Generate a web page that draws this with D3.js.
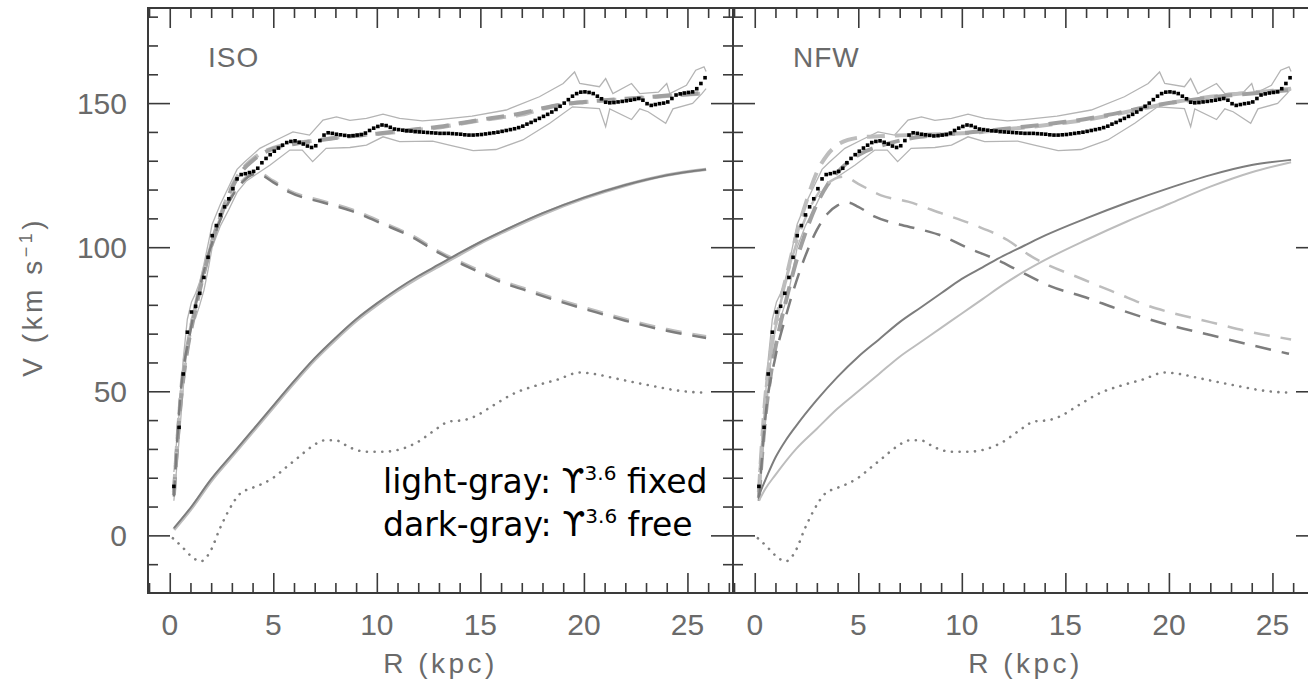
<!DOCTYPE html>
<html>
<head>
<meta charset="utf-8">
<script src="https://cdn.jsdelivr.net/npm/d3@7"></script>
<style>
  body { margin: 0; background: #fff; }
  svg { display: block; }
</style>
</head>
<body>
<svg id="chart" width="1308" height="689"></svg>
<script>
// observed rotation curve [R kpc, V km/s], same in both panels
const observed = [
  [0.2,17],[0.45,37.5],[0.65,56],[0.85,70.5],[1.05,77.5],[1.25,79.5],[1.45,84],[1.65,89.5],[1.85,96.5],[2.05,104],
  [2.25,107.5],[2.45,111.2],[2.65,114],[2.85,116.8],[3.05,120.3],[3.25,123.7],[3.45,125.2],[3.65,125.5],[3.85,125.9],[4.05,126.3],
  [4.25,127.4],[4.45,129.3],[4.65,130.8],[4.85,132.1],[5.05,133.3],[5.25,134.4],[5.45,135.4],[5.65,136.3],[5.85,136.7],[6.05,136.9],
  [6.25,136.4],[6.45,135.8],[6.65,135.1],[6.85,134.6],[7.05,135.2],[7.25,137],[7.45,138.9],[7.65,139.7],[7.85,139.5],[8.05,139.2],
  [8.25,139],[8.45,138.8],[8.65,138.6],[8.85,138.7],[9.05,138.9],[9.25,139.1],[9.45,139.6],[9.65,140.5],[9.85,141.3],[10.05,141.9],
  [10.25,142.4],[10.45,142.2],[10.65,141.6],[10.85,141],[11.05,140.8],[11.25,140.6],[11.45,140.4],[11.65,140.3],[11.85,140.1],[12.05,140],
  [12.25,139.9],[12.45,139.8],[12.65,139.7],[12.85,139.6],[13.05,139.5],[13.25,139.5],[13.45,139.5],[13.65,139.4],[13.85,139.3],[14.05,139.2],
  [14.25,139],[14.45,138.9],[14.65,138.9],[14.85,139],[15.05,139.1],[15.25,139.3],[15.45,139.5],[15.65,139.7],[15.85,139.9],[16.05,140.2],
  [16.25,140.5],[16.45,140.8],[16.65,141.1],[16.85,141.5],[17.05,142],[17.25,142.7],[17.45,143.3],[17.65,144],[17.85,144.7],[18.05,145.4],
  [18.25,146.1],[18.45,146.9],[18.65,147.8],[18.85,148.9],[19.05,150],[19.25,151.2],[19.45,152.4],[19.65,153.3],[19.85,153.8],[20.05,153.9],
  [20.25,153.7],[20.45,153.3],[20.65,152.4],[20.85,151.5],[21.05,150.3],[21.25,150.1],[21.45,150.2],[21.65,150.4],[21.85,150.6],[22.05,150.8],
  [22.25,151],[22.45,151.3],[22.65,151.6],[22.85,151],[23.05,149.8],[23.25,149.2],[23.45,149.5],[23.65,149.8],[23.85,150],[24.05,150.4],
  [24.25,151.6],[24.45,152.8],[24.65,153.2],[24.85,153.5],[25.05,153.7],[25.25,153.9],[25.45,155],[25.65,156.8],[25.85,158.8]
];

// error envelope of the observed curve
const errHi = [
  [0.2,22],[0.45,42],[0.65,61],[0.85,75],[1.05,81],[1.25,84],[1.45,88],[1.65,94],[1.85,101],[2.05,108],[2.45,115],
  [2.85,121],[3.25,127],[3.6,129.5],[4.35,134.3],[5.15,137.2],[5.95,140],[6.75,138.9],[7.4,144.1],[8.05,145.2],
  [8.7,144],[9.5,144.7],[10.3,146.2],[11.1,144.7],[12.2,143.8],[13,144.3],[14.6,145.5],[16.25,147.6],[17.85,152.2],
  [19,156.8],[19.55,160.8],[19.8,156.8],[20.75,155.7],[21.05,158.5],[21.4,153.3],[22.3,156.8],[22.7,153.3],
  [23.6,153.8],[24,156.8],[24.15,153.3],[24.95,156.2],[25.4,161.4],[25.8,162.6],[25.9,161]
];
const errLo = [
  [0.2,12],[0.45,33],[0.65,51],[0.85,66],[1.05,74],[1.25,75.5],[1.45,80],[1.65,85],[1.85,92],[2.05,100],[2.45,107.5],
  [2.85,113],[3.25,119],[3.7,123],[4.85,128.5],[5.8,133.7],[6.4,133.7],[6.9,129.7],[7.55,134.3],[8.7,134.6],
  [9.5,135.4],[10.3,138.3],[11.1,136.6],[12.7,136.8],[13.5,135.4],[14.65,133.5],[15.75,133.9],[17.05,137.2],
  [18.35,143],[19.45,148.7],[20.75,148.1],[21.05,141.8],[21.25,148],[22.3,144.3],[22.7,148],[23.1,147],
  [23.95,143],[24.3,148],[25.25,149.9],[25.7,153.3],[25.9,155]
];

// gas contribution (dotted), same in both panels
const gas = [
  [0.15,-1],[0.6,-4],[1,-7],[1.5,-9],[2,-5],[2.4,2],[2.8,8],[3.4,14.5],[4,16.5],[4.5,18],[5,20],[5.6,23.5],
  [6.2,27],[6.8,30.5],[7.5,33],[8,33],[8.7,30.5],[9.5,29],[10.3,29],[11.2,30],[12,32.5],[12.7,36],[13.5,39.5],
  [14.2,40],[14.8,41.5],[15.6,45],[16.7,49.5],[17.7,52],[18.7,54],[19.8,56.5],[20.5,56],[21.5,54.5],[22.5,53],
  [23.2,52],[24.8,50],[26,49.5]
];

// ISO fits
const isoTotalLight = [
  [0.2,15],[0.5,45],[0.8,63],[1.2,78],[1.6,90],[2,101],[2.5,112],[3,121],[3.5,127],[4,130.5],[4.5,133],[5,134.5],
  [6,136],[7,137],[8,138],[9,138.7],[10,139.3],[11,140],[12,140.8],[13,141.5],[14,142.8],[15,144],[16,145],[17,146],
  [18,148],[19,149.5],[20,150.3],[21,150.9],[22,151.4],[23,151.9],[24,152.5],[25,153],[25.9,153.4]
];
const isoTotalDark = [
  [0.2,14],[0.5,44],[0.8,62],[1.2,77],[1.6,89.5],[2,100.5],[2.5,111.5],[3,120.5],[3.5,126.5],[4,130],[4.5,132.6],
  [5,134.2],[6,135.8],[7,136.9],[8,137.9],[9,138.7],[10,139.4],[11,140.2],[12,141],[13,141.8],[14,143],[15,144.2],
  [16,145.3],[17,146.5],[18,148.2],[19,149.6],[20,150.4],[21,151],[22,151.5],[23,152],[24,152.6],[25,153.1],[25.9,153.6]
];
const isoDiskLight = [
  [0.2,14],[0.5,48],[1,72],[1.5,88],[2,101],[2.5,111],[3,118],[3.5,123],[4.2,126],[5,123],[5.8,119.5],[7.4,116],
  [8.8,113],[10.3,108.5],[11.7,104],[13,98.5],[14.6,93],[15.8,89],[17.4,85],[18.8,81.7],[20.3,78.5],[22,75],
  [24,71.5],[25.9,69]
];
const isoDiskDark = [
  [0.2,13.5],[0.5,47],[1,71],[1.5,87.5],[2,100.5],[2.5,110.5],[3,117.5],[3.5,122.5],[4.2,125.5],[5,122.5],[5.8,119],
  [7.4,115.5],[8.8,112.5],[10.3,108],[11.7,103.5],[13,98],[14.6,92.5],[15.8,88.5],[17.4,84.5],[18.8,81.2],[20.3,78],
  [22,74.5],[24,71],[25.9,68.5]
];
const isoHaloLight = [
  [0.2,2],[1,9],[2,19],[3,27.5],[4,36],[5,44.5],[6,53],[7,61],[8,68],[9,74.5],[10,80],[11,85],[12,89.5],[13,93.5],
  [14,97.5],[15,101.5],[16,105],[18,111.5],[20,117],[22,121.5],[24,125],[25.9,127]
];
const isoHaloDark = [
  [0.2,2.5],[1,9.5],[2,19.5],[3,28],[4,36.5],[5,45],[6,53.5],[7,61.5],[8,68.5],[9,75],[10,80.5],[11,85.5],[12,90],
  [13,94],[14,98],[15,101.8],[16,105.3],[18,111.8],[20,117.2],[22,121.6],[24,125],[25.9,127]
];

// NFW fits
const nfwTotalLight = [
  [0.2,15],[0.5,47],[0.8,65],[1.2,80],[1.6,92],[2,104],[2.5,116],[3,126],[3.5,132],[4,135.5],[4.5,137.2],[5,138],
  [6,138.5],[7,138.8],[8,139],[9,139.2],[10,139.5],[11,140],[12,140.8],[13,141.5],[14,142.3],[15,143.2],[16,144.2],
  [17,145.5],[18,147],[19,148.5],[20,150],[21,151.2],[22,152.2],[23,153],[24,153.7],[25,154.3],[25.9,155]
];
const nfwTotalDark = [
  [0.2,13],[0.5,40],[0.8,57],[1.2,72],[1.6,84],[2,95],[2.5,106],[3,115],[3.5,121.5],[4,126],[4.5,129.5],[5,132],
  [6,135],[7,137],[8,138.3],[9,139],[10,139.6],[11,140.2],[12,141],[13,141.8],[14,142.6],[15,143.5],[16,144.5],
  [17,145.8],[18,147.3],[19,148.8],[20,150],[21,151],[22,151.9],[23,152.7],[24,153.3],[25,154],[25.9,154.5]
];
const nfwDiskLight = [
  [0.2,14],[0.5,48],[1,72],[1.5,88],[2,101],[2.5,111],[3,118],[3.5,122],[4.3,124.5],[5,122],[6.1,118],[7.4,115.8],
  [9,111.8],[10.6,107.7],[12.2,102.5],[13.2,97.5],[15.9,88.7],[17.5,84],[19.1,79.4],[20,77.5],[22,74],[24,70.5],
  [25.9,68]
];
const nfwDiskDark = [
  [0.2,12],[0.5,40],[1,62],[1.5,76],[2,88],[2.5,98],[3,106],[3.5,111.5],[4,114.5],[4.5,115.5],[5,114],[5.8,110.6],
  [7.1,107.7],[8.4,105.4],[8.9,104.3],[10.3,99.7],[11.7,95.6],[12.7,92],[14.3,86.4],[16.1,82.3],[17.4,78.9],[20,73],
  [22,69.5],[24,66],[25.8,63]
];
const nfwHaloLight = [
  [0.2,12],[0.5,16],[1,21],[2,30],[3,37],[4,44],[5,50],[6,56],[7,62],[8,67],[9,72],[10,77],[11,82],[12,87],
  [13,91.5],[14,95.5],[16,102.5],[18,109],[20,115],[22,121],[24,126],[25.9,129.5]
];
const nfwHaloDark = [
  [0.2,14],[0.5,19],[1,27],[1.5,33],[2,38],[3,47],[4,55],[5,62],[6,68],[7,74],[8,79],[9,84],[10,89],[11,93],
  [12,97],[13,100.5],[14,104],[16,110],[18,115.5],[20,120.5],[22,125],[24,128.5],[25.9,130.3]
];

const xMajor = [0, 5, 10, 15, 20, 25];
const yMajor = [0, 50, 100, 150];

const light = '#bdbdbd';
const dark = '#7d7d7d';
const frameColor = '#3a3a3a';
const labelColor = '#6a6a6a';

const svg = d3.select('#chart');
const yTop = 8, yBottom = 593;
const y = d3.scaleLinear().domain([-20, 183]).range([yBottom, yTop]);

const panels = [
  {
    name: 'ISO', left: 148, right: 733,
    curves: [
      {data: isoTotalLight, color: light, width: 4, dash: '18,10'},
      {data: isoTotalDark, color: '#a0a0a0', width: 4, dash: '18,10'},
      {data: isoDiskLight, color: light, width: 3, dash: '16,11'},
      {data: isoDiskDark, color: dark, width: 2.5, dash: '16,11'},
      {data: isoHaloLight, color: light, width: 3.5},
      {data: isoHaloDark, color: dark, width: 2}
    ]
  },
  {
    name: 'NFW', left: 733, right: 1318,
    curves: [
      {data: nfwTotalLight, color: light, width: 4, dash: '18,10'},
      {data: nfwTotalDark, color: '#a0a0a0', width: 4, dash: '18,10'},
      {data: nfwDiskLight, color: light, width: 2.5, dash: '16,11'},
      {data: nfwDiskDark, color: dark, width: 2.5, dash: '16,11'},
      {data: nfwHaloLight, color: light, width: 2},
      {data: nfwHaloDark, color: dark, width: 2}
    ]
  }
];

const drawTicks = (g, axis, transform) => {
  g.append('g')
    .attr('transform', transform)
    .call(axis.tickFormat(''))
    .call(s => s.select('.domain').remove())
    .selectAll('line')
    .attr('stroke', frameColor)
    .attr('stroke-width', 1.6);
};

panels.forEach((p) => {
  const x = d3.scaleLinear().domain([-1.05, 27.2]).range([p.left, p.right]);
  const g = svg.append('g');

  const xMinor = d3.range(-1, 28).filter(v => v % 5 !== 0);
  const yMinor = d3.range(-10, 181, 10).filter(v => v % 50 !== 0);

  // ticks on all four sides, pointing inward
  drawTicks(g, d3.axisBottom(x).tickValues(xMajor).tickSize(-20), `translate(0,${yBottom})`);
  drawTicks(g, d3.axisBottom(x).tickValues(xMinor).tickSize(-10), `translate(0,${yBottom})`);
  drawTicks(g, d3.axisTop(x).tickValues(xMajor).tickSize(-20), `translate(0,${yTop})`);
  drawTicks(g, d3.axisTop(x).tickValues(xMinor).tickSize(-10), `translate(0,${yTop})`);
  drawTicks(g, d3.axisLeft(y).tickValues(yMajor).tickSize(-22), `translate(${p.left},0)`);
  drawTicks(g, d3.axisLeft(y).tickValues(yMinor).tickSize(-10), `translate(${p.left},0)`);
  drawTicks(g, d3.axisRight(y).tickValues(yMajor).tickSize(-22), `translate(${p.right},0)`);
  drawTicks(g, d3.axisRight(y).tickValues(yMinor).tickSize(-10), `translate(${p.right},0)`);

  g.append('rect')
    .attr('x', p.left).attr('y', yTop)
    .attr('width', p.right - p.left).attr('height', yBottom - yTop)
    .attr('fill', 'none')
    .attr('stroke', frameColor)
    .attr('stroke-width', 2);

  // x tick labels
  g.selectAll('.xl').data(xMajor).enter().append('text')
    .attr('x', d => x(d)).attr('y', 635)
    .attr('text-anchor', 'middle')
    .attr('font-family', 'Liberation Sans, Arial, sans-serif')
    .attr('font-size', 30).attr('fill', labelColor)
    .text(d => d);

  g.append('text')
    .attr('x', (p.left + p.right) / 2).attr('y', 673)
    .attr('text-anchor', 'middle')
    .attr('font-family', 'Liberation Sans, Arial, sans-serif')
    .attr('font-size', 28).attr('letter-spacing', 3.5).attr('fill', labelColor)
    .text('R (kpc)');

  g.append('text')
    .attr('x', p.left + 60).attr('y', 67)
    .attr('font-family', 'Liberation Sans, Arial, sans-serif')
    .attr('font-size', 28).attr('letter-spacing', 1).attr('fill', labelColor)
    .text(p.name);

  const line = d3.line().x(d => x(d[0])).y(d => y(d[1])).curve(d3.curveMonotoneX);
  const rough = d3.line().x(d => x(d[0])).y(d => y(d[1]));

  // error envelope
  [errHi, errLo].forEach(e => {
    g.append('path').datum(e)
      .attr('d', rough)
      .attr('fill', 'none').attr('stroke', '#b4b4b4').attr('stroke-width', 1.3);
  });

  p.curves.forEach(c => {
    g.append('path').datum(c.data)
      .attr('d', line)
      .attr('fill', 'none')
      .attr('stroke', c.color)
      .attr('stroke-width', c.width)
      .attr('stroke-dasharray', c.dash || null);
  });

  // gas (dotted)
  g.append('path').datum(gas)
    .attr('d', line)
    .attr('fill', 'none')
    .attr('stroke', '#808080')
    .attr('stroke-width', 2.6)
    .attr('stroke-linecap', 'round')
    .attr('stroke-dasharray', '0.1,7.6');

  // observed points
  g.selectAll('.obs').data(observed).enter().append('rect')
    .attr('x', d => x(d[0]) - 1.8).attr('y', d => y(d[1]) - 1.8)
    .attr('width', 3.6).attr('height', 3.6)
    .attr('fill', '#000');
});

// y tick labels (left panel only)
svg.selectAll('.yl').data(yMajor).enter().append('text')
  .attr('x', 127).attr('y', d => y(d) + 11)
  .attr('text-anchor', 'end')
  .attr('font-family', 'Liberation Sans, Arial, sans-serif')
  .attr('font-size', 30).attr('fill', labelColor)
  .text(d => d);

const yl = svg.append('text')
  .attr('transform', 'translate(42,217) rotate(-90)')
  .attr('text-anchor', 'end')
  .attr('font-family', 'Liberation Sans, Arial, sans-serif')
  .attr('font-size', 28).attr('letter-spacing', 3.5).attr('fill', labelColor);
yl.append('tspan').text('V (km s');
yl.append('tspan').attr('dy', -10).attr('font-size', 18).text('−1');
yl.append('tspan').attr('dy', 10).text(')');

// legend note
const note = svg.append('g')
  .attr('font-family', '"DejaVu Sans", sans-serif')
  .attr('font-size', 33).attr('fill', '#000');
[['light-gray: ϒ', ' fixed', 493], ['dark-gray: ϒ', ' free', 536]].forEach(([a, b, yy]) => {
  const t = note.append('text').attr('x', 383).attr('y', yy);
  t.append('tspan').text(a);
  t.append('tspan').attr('dy', -13).attr('font-size', 20).text('3.6');
  t.append('tspan').attr('dy', 13).text(b);
});
</script>
</body>
</html>
